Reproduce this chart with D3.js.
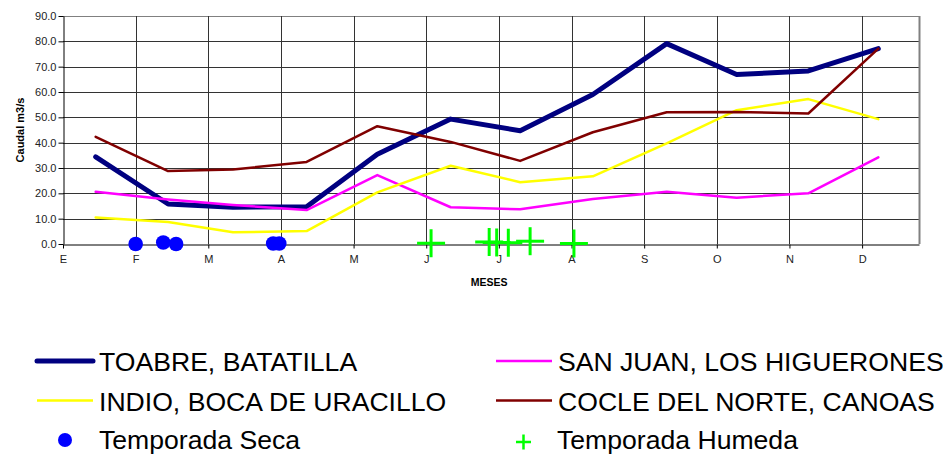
<!DOCTYPE html>
<html>
<head>
<meta charset="utf-8">
<script src="https://cdn.jsdelivr.net/npm/d3@7/dist/d3.min.js"></script>
<style>
  html, body { margin: 0; padding: 0; background: #fff; }
  svg { display: block; font-family: Arial, "Liberation Sans", sans-serif; }
</style>
</head>
<body>
<svg id="chart" width="943" height="455"></svg>
<script>
// Month labels (ticks every 30 days on a day-of-year axis)
const monthLabels = ["E", "F", "M", "A", "M", "J", "J", "A", "S", "O", "N", "D"];
const monthTickDays = [0, 30, 60, 90, 120, 150, 180, 210, 240, 270, 300, 330];
const yTicks = [0, 10, 20, 30, 40, 50, 60, 70, 80, 90];

// Day of year at which each monthly mean flow is plotted
const flowDays = [13.5, 43.4, 70.2, 100.6, 129.8, 160.1, 188.8, 218.8, 249.3, 278.2, 307.8, 336.7];

// Monthly mean flows (m3/s)
const toabre   = [34.4, 15.8, 14.5, 14.7, 35.4, 49.3, 44.7, 59.0, 79.1, 66.9, 68.3, 77.1];
const sanJuan  = [20.6, 17.6, 15.4, 13.4, 27.2, 14.5, 13.7, 17.8, 20.6, 18.3, 20.0, 34.2];
const indio    = [10.5,  8.7,  4.6,  5.1, 20.4, 30.9, 24.4, 26.7, 39.7, 52.8, 57.2, 49.3];
const cocle    = [42.3, 28.8, 29.4, 32.4, 46.5, 40.3, 32.8, 44.1, 52.0, 52.1, 51.5, 77.1];

// Sampling campaigns: dry season (days, flow) and wet season (days, flow)
const secaDays    = [30, 41.4, 46.7, 86.8, 89.3];
const secaValues  = [0.0, 0.6, 0.0, 0.2, 0.2];
const humedaDays   = [152, 176, 179.1, 183.9, 192.9, 211];
const humedaValues = [0.3, 0.8, 0.6, 0.5, 1.1, 0.2];

const seriesNames  = ["TOABRE, BATATILLA", "SAN JUAN, LOS HIGUERONES", "INDIO, BOCA DE URACILLO", "COCLE DEL NORTE, CANOAS"];
const seriesColors = ["#000080", "#ff00ff", "#ffff00", "#800000"];
const seriesWidths = [5, 2.5, 2.5, 2.5];
const seriesValues = [toabre, sanJuan, indio, cocle];

const svg = d3.select("#chart");
const margin = { left: 63, top: 16, right: 24, bottom: 211 };
const W = 943 - margin.left - margin.right;   // 856
const H = 455 - margin.top - margin.bottom;   // 228

const x = d3.scaleLinear().domain([0, 353.5]).range([0, W]);
const y = d3.scaleLinear().domain([0, 90]).range([H, 0]);

const g = svg.append("g").attr("transform", `translate(${margin.left},${margin.top})`);

// Horizontal grid
g.append("g").selectAll("line").data(yTicks.slice(1)).join("line")
  .attr("x1", 0).attr("x2", W)
  .attr("y1", d => Math.round(y(d)) + 0.5).attr("y2", d => Math.round(y(d)) + 0.5)
  .attr("stroke", d => d === 90 ? "#808080" : "#333").attr("stroke-width", 1);

// Vertical grid at month starts
g.append("g").selectAll("line").data(monthTickDays.slice(1)).join("line")
  .attr("x1", d => Math.round(x(d)) + 0.5).attr("x2", d => Math.round(x(d)) + 0.5)
  .attr("y1", 0).attr("y2", H)
  .attr("stroke", "#333").attr("stroke-width", 1);

// Right border of plot area
g.append("line")
  .attr("x1", W + 0.5).attr("x2", W + 0.5).attr("y1", 0).attr("y2", H)
  .attr("stroke", "#808080").attr("stroke-width", 2);

// Axes
const yAxis = d3.axisLeft(y).tickValues(yTicks).tickFormat(d3.format(".1f")).tickSize(5).tickSizeOuter(0).tickPadding(2);
const yG = g.append("g").attr("transform", "translate(0.5,0)").call(yAxis);
yG.select(".domain").attr("stroke", "#000");
yG.selectAll(".tick line").attr("stroke", "#000");
yG.selectAll("text").attr("font-size", 11).attr("fill", "#222").attr("font-family", "Arial, 'Liberation Sans', sans-serif");

const xAxis = d3.axisBottom(x).tickValues(monthTickDays).tickFormat((d, i) => monthLabels[i]).tickSize(4).tickSizeOuter(0).tickPadding(7);
const xG = g.append("g").attr("transform", `translate(0,${H + 0.5})`).call(xAxis);
xG.select(".domain").attr("stroke", "#000");
xG.selectAll(".tick line").attr("stroke", "#000");
xG.selectAll("text").attr("font-size", 11).attr("fill", "#222").attr("font-family", "Arial, 'Liberation Sans', sans-serif");

// Axis titles
svg.append("text")
  .attr("transform", "translate(24,130) rotate(-90)")
  .attr("text-anchor", "middle").attr("font-size", 11).attr("font-weight", "bold")
  .text("Caudal m3/s");
svg.append("text")
  .attr("x", margin.left + x(176)).attr("y", 286)
  .attr("text-anchor", "middle").attr("font-size", 10.5).attr("font-weight", "bold")
  .text("MESES");

// Flow lines
const line = d3.line().x((d, i) => x(flowDays[i])).y(d => y(d));
seriesValues.forEach((vals, k) => {
  g.append("path").datum(vals)
    .attr("fill", "none")
    .attr("stroke", seriesColors[k])
    .attr("stroke-width", seriesWidths[k])
    .attr("stroke-linejoin", "round")
    .attr("stroke-linecap", "round")
    .attr("d", line);
});

// Dry-season sampling points
g.append("g").selectAll("circle").data(secaValues).join("circle")
  .attr("cx", (d, i) => x(secaDays[i]))
  .attr("cy", d => y(d))
  .attr("r", 7.3)
  .attr("fill", "#0000ff");

// Wet-season sampling points
const cross = g.append("g").selectAll("g").data(humedaValues).join("g")
  .attr("transform", (d, i) => `translate(${x(humedaDays[i])},${y(d)})`);
cross.append("line").attr("x1", -14).attr("x2", 14).attr("y1", 0).attr("y2", 0)
  .attr("stroke", "#00ff00").attr("stroke-width", 3);
cross.append("line").attr("x1", 0).attr("x2", 0).attr("y1", -14).attr("y2", 14)
  .attr("stroke", "#00ff00").attr("stroke-width", 3);

// Legend
const legendRows = [
  { col: 0, row: 0, k: 0 }, { col: 1, row: 0, k: 1 },
  { col: 0, row: 1, k: 2 }, { col: 1, row: 1, k: 3 }
];
const colX = [37, 496];
const rowY = [361, 400.5, 440];
const legendFont = 26.6;
const legend = svg.append("g");
legendRows.forEach(r => {
  const lx = colX[r.col], ly = rowY[r.row];
  legend.append("line")
    .attr("x1", lx).attr("x2", lx + 56).attr("y1", ly).attr("y2", ly)
    .attr("stroke", seriesColors[r.k])
    .attr("stroke-width", r.k === 0 ? 5 : 2.5)
    .attr("stroke-linecap", r.k === 0 ? "round" : "butt");
  legend.append("text")
    .attr("x", lx + 62).attr("y", ly + 10)
    .attr("font-size", legendFont).attr("fill", "#000")
    .text(seriesNames[r.k]);
});
legend.append("circle").attr("cx", 65).attr("cy", rowY[2]).attr("r", 7).attr("fill", "#0000ff");
legend.append("text").attr("x", 99).attr("y", rowY[2] + 9).attr("font-size", legendFont).text("Temporada Seca");
legend.append("line").attr("x1", 516).attr("x2", 531).attr("y1", rowY[2] + 2).attr("y2", rowY[2] + 2)
  .attr("stroke", "#00ff00").attr("stroke-width", 2.5);
legend.append("line").attr("x1", 523.5).attr("x2", 523.5).attr("y1", rowY[2] - 5.5).attr("y2", rowY[2] + 9.5)
  .attr("stroke", "#00ff00").attr("stroke-width", 2.5);
legend.append("text").attr("x", 557).attr("y", rowY[2] + 9).attr("font-size", legendFont).text("Temporada Humeda");
</script>
</body>
</html>
